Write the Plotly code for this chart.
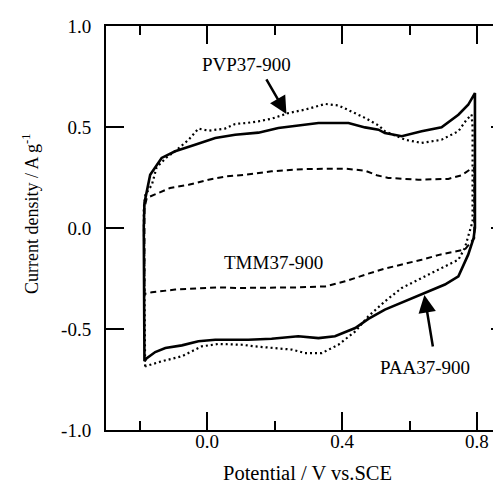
import plotly.graph_objects as go

# PAA37-900 (solid)
paa_v = [-0.186, -0.188, -0.186, -0.169, -0.135, -0.095, -0.036, 0.024, 0.083, 0.122, 0.152, 0.211, 0.27, 0.33,
         0.419, 0.468, 0.508, 0.527, 0.577, 0.636, 0.695, 0.745, 0.774, 0.794, 0.794, 0.79, 0.774, 0.745, 0.705,
         0.646, 0.577, 0.527, 0.478, 0.439, 0.379, 0.33, 0.27, 0.191, 0.122, 0.024, -0.026, -0.075, -0.124,
         -0.154, -0.179, -0.186]
paa_i = [-0.66, 0.0, 0.124, 0.264, 0.347, 0.38, 0.412, 0.446, 0.462, 0.468, 0.472, 0.495, 0.506, 0.52,
         0.52, 0.498, 0.487, 0.47, 0.454, 0.479, 0.498, 0.561, 0.61, 0.668, 0.0, -0.05, -0.132, -0.239, -0.28,
         -0.322, -0.371, -0.404, -0.45, -0.495, -0.536, -0.545, -0.536, -0.548, -0.553, -0.553, -0.561, -0.581,
         -0.594, -0.614, -0.644, -0.66]

# PVP37-900 (dotted)
pvp_v = [-0.184, -0.188, -0.183, -0.164, -0.15, -0.12, -0.095, -0.055, -0.026, 0.004, 0.053, 0.083, 0.117,
         0.152, 0.191, 0.241, 0.29, 0.35, 0.389, 0.428, 0.468, 0.508, 0.527, 0.587, 0.636, 0.695, 0.745, 0.769,
         0.784, 0.787, 0.787, 0.764, 0.745, 0.705, 0.646, 0.577, 0.527, 0.478, 0.439, 0.389, 0.34, 0.29, 0.251,
         0.191, 0.142, 0.103, 0.033, -0.016, -0.075, -0.135, -0.184]
pvp_i = [-0.685, 0.1, 0.165, 0.214, 0.3, 0.35, 0.38, 0.437, 0.492, 0.482, 0.492, 0.515, 0.52,
         0.528, 0.541, 0.569, 0.586, 0.614, 0.607, 0.578, 0.545, 0.508, 0.479, 0.437, 0.421, 0.437, 0.479, 0.536,
         0.561, 0.5, 0.033, -0.099, -0.157, -0.19, -0.239, -0.297, -0.363, -0.437, -0.512, -0.578, -0.619, -0.619,
         -0.602, -0.594, -0.586, -0.578, -0.574, -0.586, -0.635, -0.66, -0.685]

# TMM37-900 (dashed)
tmm_v = [-0.186, -0.186, -0.179, -0.144, -0.11, -0.055, 0.004, 0.058, 0.117, 0.191, 0.29, 0.409, 0.468, 0.503,
         0.537, 0.626, 0.715, 0.754, 0.779, 0.792, 0.792, 0.764, 0.69, 0.636, 0.577, 0.527, 0.478, 0.409, 0.35,
         0.27, 0.093, 0.033, -0.095, -0.164, -0.186]
tmm_i = [-0.327, 0.1, 0.149, 0.173, 0.198, 0.214, 0.239, 0.256, 0.264, 0.281, 0.292, 0.294, 0.284, 0.261,
         0.248, 0.239, 0.243, 0.261, 0.289, 0.297, -0.05, -0.107, -0.132, -0.157, -0.182, -0.201, -0.226, -0.264,
         -0.289, -0.294, -0.297, -0.294, -0.305, -0.318, -0.327]

x_ticks = [0.0, 0.4, 0.8]
x_ticktext = ["0.0", "0.4", "0.8"]
x_minor = [-0.2, 0.2, 0.6]
y_ticks = [-1.0, -0.5, 0.0, 0.5, 1.0]
y_ticktext = ["-1.0", "-0.5", "0.0", "0.5", "1.0"]

FONT = "Liberation Serif"

fig = go.Figure()
fig.add_trace(go.Scatter(x=tmm_v, y=tmm_i, mode="lines", name="TMM37-900",
                         line=dict(color="black", width=2, dash="6px,4px")))
fig.add_trace(go.Scatter(x=pvp_v, y=pvp_i, mode="lines", name="PVP37-900",
                         line=dict(color="black", width=2.2, dash="2px,3px")))
fig.add_trace(go.Scatter(x=paa_v, y=paa_i, mode="lines", name="PAA37-900",
                         line=dict(color="black", width=2.6)))
fig.add_trace(go.Scatter(x=[None], y=[None], yaxis="y2", showlegend=False, hoverinfo="skip"))

fig.update_layout(
    width=501, height=483,
    margin=dict(l=98, r=0, t=18, b=61),
    paper_bgcolor="white", plot_bgcolor="white",
    showlegend=False,
    font=dict(family=FONT, size=19, color="black"),
    xaxis=dict(range=[-0.3, 0.895], tickvals=x_ticks, ticktext=x_ticktext,
               ticks="inside", ticklen=18, tickwidth=2, tickcolor="black",
               minor=dict(tickvals=x_minor, ticks="inside", ticklen=9, tickwidth=2, tickcolor="black"),
               showline=True, linewidth=2, linecolor="black", mirror="ticks",
               showgrid=False, zeroline=False, ticklabelstandoff=-7,
               title=dict(text="Potential / V vs.SCE", font=dict(family=FONT, size=20.5), standoff=15)),
    yaxis=dict(range=[-1, 1], tickvals=y_ticks, ticktext=y_ticktext,
               ticks="inside", ticklen=18, tickwidth=2, tickcolor="black",
               showline=True, linewidth=2, linecolor="black",
               showgrid=False, zeroline=False, ticklabelstandoff=9),
    yaxis2=dict(range=[-1, 1], tickvals=y_ticks, overlaying="y", side="right",
                showticklabels=False, ticks="inside", ticklen=18, tickwidth=2, tickcolor="black",
                showline=False, showgrid=False, zeroline=False),
)

# y-axis title (placed slightly above the axis centre as in the reference)
fig.add_annotation(xref="paper", yref="paper", x=-0.186, y=0.535, xanchor="center", yanchor="middle",
                   text="Current density / A g<sup>-1</sup>", textangle=-90, showarrow=False,
                   font=dict(family=FONT, size=18, color="black"))

ann_font = dict(family=FONT, size=19, color="black")
fig.add_annotation(x=0.116, y=0.807, text="PVP37-900", showarrow=False, font=ann_font)
fig.add_annotation(x=0.196, y=-0.173, text="TMM37-900", showarrow=False, font=ann_font)
fig.add_annotation(x=0.647, y=-0.693, text="PAA37-900", showarrow=False, font=ann_font)
fig.add_annotation(x=0.235, y=0.564, ax=0.173, ay=0.743, axref="x", ayref="y", text="",
                   showarrow=True, arrowhead=2, arrowsize=1.4, arrowwidth=2.5, arrowcolor="black")
fig.add_annotation(x=0.644, y=-0.332, ax=0.670, ay=-0.594, axref="x", ayref="y", text="",
                   showarrow=True, arrowhead=2, arrowsize=1.4, arrowwidth=2.5, arrowcolor="black")

fig.write_html("out.html")
